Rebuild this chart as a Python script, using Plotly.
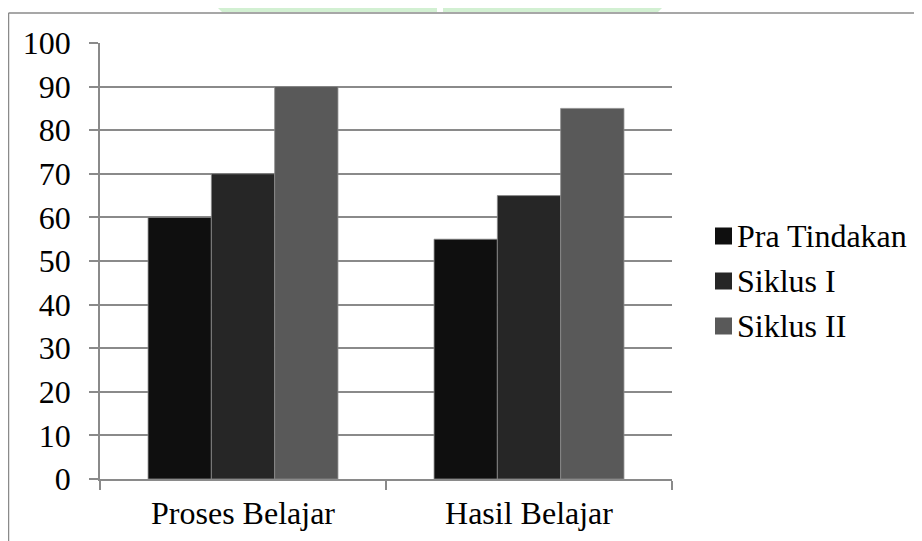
import plotly.graph_objects as go

categories = ["Proses Belajar", "Hasil Belajar"]
series_names = ["Pra Tindakan", "Siklus I", "Siklus II"]
pra_tindakan = [60, 55]
siklus_1 = [70, 65]
siklus_2 = [90, 85]
series_values = [pra_tindakan, siklus_1, siklus_2]
colors = ["#0f0f0f", "#262626", "#595959"]
y_ticks = [0, 10, 20, 30, 40, 50, 60, 70, 80, 90, 100]

# page body adds an 8px offset; work in window pixels and convert
OFF = 8
W, H = 922 - OFF, 541 - OFF
L, R, T, B = 100 - OFF, 672 - OFF, 43 - OFF, 479 - OFF
FONT = "Liberation Serif"
FS = 32
GRID = "#8a8a8a"

def px(x):
    return (x - OFF - L) / (R - L)

def py(y):
    return (B - (y - OFF)) / (B - T)

fig = go.Figure()
for name, vals, col in zip(series_names, series_values, colors):
    fig.add_trace(go.Bar(
        x=categories, y=vals, name=name,
        marker=dict(color=col, line=dict(color="#8c8c8c", width=0.8)),
        showlegend=False,
    ))

shapes = []
annotations = []
# custom legend
leg_y = [236, 281, 326]
for name, col, yc in zip(series_names, colors, leg_y):
    shapes.append(dict(type="rect", xref="paper", yref="paper",
                       x0=px(715), x1=px(732), y0=py(yc + 8.5), y1=py(yc - 8.5),
                       fillcolor=col, line=dict(width=0)))
    annotations.append(dict(xref="paper", yref="paper", x=px(735), y=py(yc),
                            xanchor="left", yanchor="middle", text=name,
                            showarrow=False,
                            font=dict(family=FONT, size=FS, color="#000000")))

# outer frame (top and left edges)
shapes.append(dict(type="line", xref="paper", yref="paper",
                   x0=px(8.5), x1=px(922), y0=py(13), y1=py(13),
                   line=dict(color=GRID, width=1.5)))
shapes.append(dict(type="line", xref="paper", yref="paper",
                   x0=px(8.5), x1=px(8.5), y0=py(13), y1=py(541),
                   line=dict(color=GRID, width=1.5)))

# faint green watermark at top
shapes.append(dict(type="path", xref="paper", yref="paper",
                   path=f"M {px(218)} {py(8)} L {px(437)} {py(8)} L {px(437)} {py(12)} L {px(222)} {py(12)} Z",
                   fillcolor="rgba(180,230,180,0.6)", line=dict(width=0), layer="below"))
shapes.append(dict(type="path", xref="paper", yref="paper",
                   path=f"M {px(443)} {py(8)} L {px(662)} {py(8)} L {px(658)} {py(12)} L {px(443)} {py(12)} Z",
                   fillcolor="rgba(180,230,180,0.6)", line=dict(width=0), layer="below"))

fig.update_layout(
    width=W, height=H,
    margin=dict(l=L, r=W - R, t=T, b=H - B, pad=0, autoexpand=False),
    paper_bgcolor="white", plot_bgcolor="white",
    barmode="group", bargap=0.336, bargroupgap=0,
    showlegend=False,
    shapes=shapes, annotations=annotations,
    font=dict(family=FONT, size=FS, color="#000000"),
)
fig.update_yaxes(
    range=[0, 100], tickvals=y_ticks, ticktext=[str(v) for v in y_ticks],
    showline=True, linecolor=GRID, linewidth=1.5,
    ticks="outside", ticklen=9, tickcolor=GRID, tickwidth=1.5,
    showgrid=True, gridcolor=GRID, gridwidth=1.5,
    zeroline=False, ticklabelstandoff=12, automargin=False,
    tickfont=dict(family=FONT, size=FS, color="#000000"),
)
fig.update_xaxes(
    showline=True, linecolor=GRID, linewidth=1.5,
    ticks="outside", ticklen=9, tickcolor=GRID, tickwidth=1.5,
    tickson="boundaries", showgrid=False, ticklabelstandoff=5, automargin=False,
    tickfont=dict(family=FONT, size=FS, color="#000000"),
)

fig.write_html("out.html")
